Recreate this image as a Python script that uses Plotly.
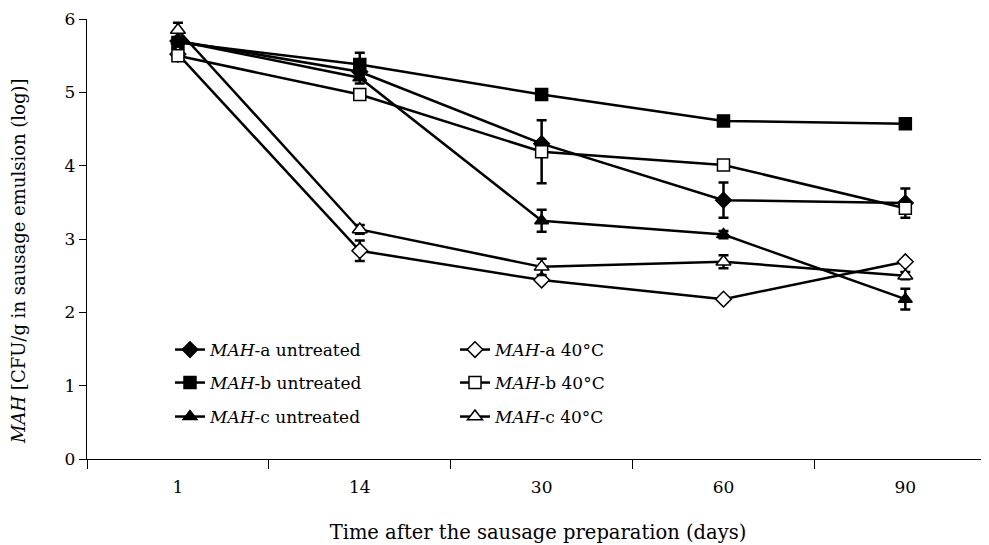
import plotly.graph_objects as go

days = ["1", "14", "30", "60", "90"]

a_untr = [5.70, 5.28, 4.30, 3.53, 3.49]
a_untr_err = [0, 0.10, 0, 0.24, 0.20]
b_untr = [5.68, 5.38, 4.97, 4.61, 4.57]
b_untr_err = [0, 0.16, 0, 0, 0]
c_untr = [5.70, 5.20, 3.25, 3.06, 2.18]
c_untr_err = [0, 0.08, 0.15, 0.05, 0.14]
a_40 = [5.52, 2.84, 2.44, 2.18, 2.69]
a_40_err = [0, 0.14, 0, 0.03, 0]
b_40 = [5.50, 4.97, 4.19, 4.01, 3.42]
b_40_err = [0, 0, 0.43, 0, 0]
c_40 = [5.85, 3.13, 2.62, 2.69, 2.50]
c_40_err = [0.10, 0.06, 0.11, 0.09, 0.05]

names = ["<i>MAH</i>-a untreated", "<i>MAH</i>-b untreated", "<i>MAH</i>-c untreated",
         "<i>MAH</i>-a 40°C", "<i>MAH</i>-b 40°C", "<i>MAH</i>-c 40°C"]
series = [a_untr, b_untr, c_untr, a_40, b_40, c_40]
errs = [a_untr_err, b_untr_err, c_untr_err, a_40_err, b_40_err, c_40_err]
symbols = ["diamond", "square", "triangle-up", "diamond", "square", "triangle-up"]
sizes = [12, 12, 12, 12, 12, 13]
fills = ["black", "black", "black", "white", "white", "white"]

y_title = "<i>MAH</i> [CFU/g in sausage emulsion (log)]"
x_title = "Time after the sausage preparation (days)"

FONT = "DejaVu Serif"
FS = 17
# page is rendered with an 8px body margin; the figure is sized to compensate
OFF = 8
W, H = 989 - OFF, 545 - OFF
L, T, B = 79, 11, 86
PW, PH = W - L, H - T - B

fig = go.Figure()
# legend item positions in page pixels (symbol start x, text centre y)
legend_pos = [(170, 350), (170, 383), (170, 417), (455, 350), (455, 383), (455, 417)]
layout_legends = {}
for i, (nm, ys, er, sym, sz, fc) in enumerate(zip(names, series, errs, symbols, sizes, fills)):
    lname = "legend" if i == 0 else f"legend{i+1}"
    fig.add_trace(go.Scatter(
        x=days, y=ys, name=nm, mode="lines+markers",
        line=dict(color="black", width=2.5),
        marker=dict(symbol=sym, size=sz, color=fc,
                    line=dict(color="black", width=1.5)),
        error_y=dict(type="data", array=er, visible=True, color="black",
                     thickness=2.5, width=5),
        legend=lname, showlegend=True,
    ))
    px, py = legend_pos[i]
    layout_legends[lname] = dict(
        x=(px - OFF - L) / PW, y=(H - B - (py - OFF)) / PH,
        xanchor="left", yanchor="middle", bgcolor="rgba(0,0,0,0)",
        font=dict(family=FONT, size=FS, color="black"), itemwidth=30,
    )

# y-axis title as a rotated annotation (page centre ~ x=18, y=260)
fig.add_annotation(
    text=y_title, textangle=-90, showarrow=False,
    xref="paper", yref="paper",
    x=(18 - OFF - L) / PW, y=(H - B - (261 - OFF)) / PH,
    xanchor="center", yanchor="middle",
    font=dict(family=FONT, size=18, color="black"),
)

fig.update_layout(
    width=W, height=H,
    margin=dict(l=L, r=0, t=T, b=B, autoexpand=False),
    plot_bgcolor="white", paper_bgcolor="white",
    font=dict(family=FONT, size=FS, color="black"),
    xaxis=dict(
        type="category", range=[-0.5, 4.46], tickson="boundaries",
        ticks="outside", ticklen=9, tickwidth=1.3, tickcolor="black",
        showline=True, linecolor="black", linewidth=1.3, showgrid=False,
        zeroline=False, tickfont=dict(family=FONT, size=FS),
        ticklabelstandoff=12,
        title=dict(text=x_title, font=dict(family=FONT, size=19.5), standoff=29),
    ),
    yaxis=dict(
        range=[0, 6], dtick=1, ticks="outside", ticklen=7, tickwidth=1.3,
        tickcolor="black", showline=True, linecolor="black", linewidth=1.3,
        showgrid=False, zeroline=False, tickfont=dict(family=FONT, size=FS),
    ),
    **layout_legends,
)

fig.write_html("out.html")
